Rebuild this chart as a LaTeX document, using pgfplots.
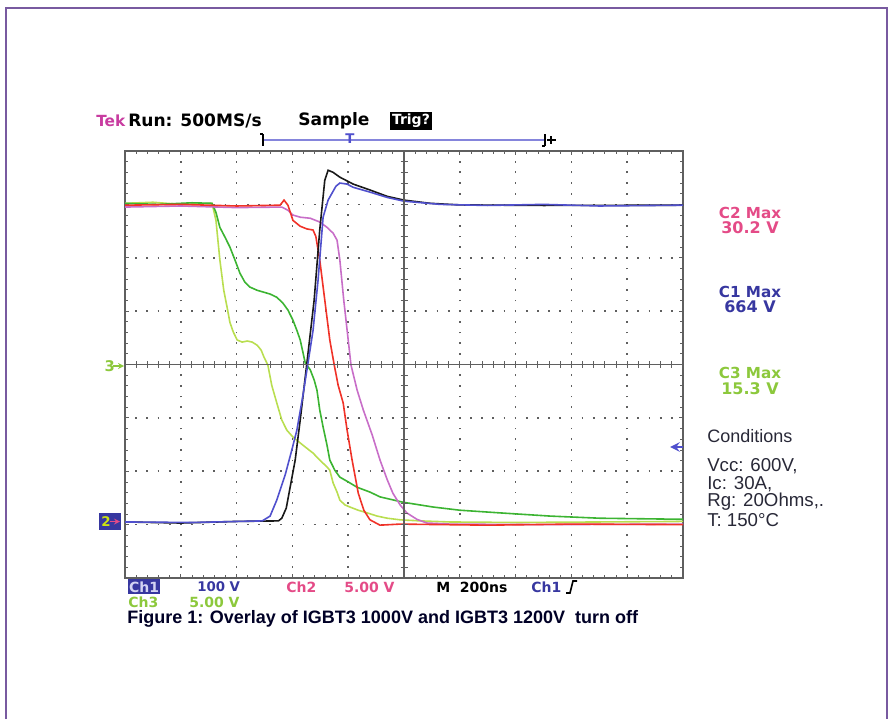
\documentclass[border=0pt]{standalone}
\usepackage{pgfplots}
\pgfplotsset{compat=1.18}
\usepackage{fontspec}
\setmainfont{Liberation Sans}
\newfontfamily\tek{DejaVu Sans}
\definecolor{cblue}{RGB}{80,80,205}
\definecolor{cbluetext}{RGB}{55,55,160}
\definecolor{cblack}{RGB}{25,25,25}
\definecolor{cred}{RGB}{240,50,40}
\definecolor{cmag}{RGB}{200,110,200}
\definecolor{cgreen}{RGB}{60,180,50}
\definecolor{clgreen}{RGB}{185,222,80}
\definecolor{clgtext}{RGB}{140,200,60}
\definecolor{cpink}{RGB}{228,75,135}
\definecolor{ctek}{RGB}{200,60,160}
\definecolor{cframe}{RGB}{120,90,160}
\definecolor{cgrid}{RGB}{95,95,95}
\definecolor{ccond}{RGB}{40,40,55}
\begin{document}
\begin{tikzpicture}[x=0.75pt,y=0.75pt]
\path[use as bounding box] (0,0) rectangle (893,719);
\draw[cframe, line width=0.8pt] (6,0) -- (6,711) -- (887,711) -- (887,0);
\begin{axis}[at={(93.75pt,105.75pt)}, anchor=south west, scale only axis,
  width=418.5pt, height=320.25pt,
  xmin=0, xmax=10, ymin=0, ymax=8,
  xtick={0,...,10}, ytick={0,...,8},
  minor x tick num=4, minor y tick num=4,
  xticklabels={}, yticklabels={},
  tick align=inside, major tick length=3pt, minor tick length=2.5pt,
  every tick/.style={cgrid, line width=0.6pt},
  axis line style={cgrid, line width=1.1pt},
  grid=major,
  x grid style={cgrid, line width=1.3pt, dash pattern=on 1.3pt off 6.706pt, dash phase=0.65pt},
  y grid style={cgrid, line width=1.3pt, dash pattern=on 1.3pt off 7.07pt, dash phase=0.65pt},
  clip=true]
% light green (Ch3, device A)
\addplot[clgreen, line width=1.2pt] coordinates {
(0,7.02) (0.5,7.04) (1.0,7.00) (1.56,7.02) (1.63,6.70) (1.70,5.96) (1.77,5.39) (1.83,5.07)
(1.88,4.79) (1.94,4.61) (2.01,4.46) (2.10,4.42) (2.19,4.44) (2.28,4.42) (2.37,4.36)
(2.44,4.27) (2.49,4.14) (2.56,3.99) (2.63,3.61) (2.72,3.28) (2.81,2.96) (2.90,2.77)
(3.01,2.64) (3.14,2.53) (3.26,2.43) (3.37,2.34) (3.49,2.21) (3.62,2.08) (3.67,2.02)
(3.73,1.78) (3.80,1.61) (3.85,1.46) (3.94,1.37) (4.03,1.33) (4.18,1.27) (4.34,1.22)
(4.52,1.16) (4.70,1.12) (4.93,1.09) (5.29,1.07) (5.82,1.05) (7.0,1.04) (8.5,1.05) (10,1.06)};
% green (Ch3, device B)
\addplot[cgreen, line width=1.2pt] coordinates {
(0,7.02) (0.6,7.00) (1.2,7.03) (1.56,7.02) (1.63,6.85) (1.70,6.57) (1.79,6.39) (1.88,6.20)
(1.97,5.96) (2.06,5.71) (2.15,5.54) (2.24,5.45) (2.37,5.39) (2.47,5.36) (2.60,5.32)
(2.72,5.26) (2.83,5.15) (2.92,5.02) (3.01,4.83) (3.08,4.64) (3.14,4.46) (3.23,4.03)
(3.32,3.90) (3.39,3.71) (3.44,3.52) (3.49,3.15) (3.55,2.83) (3.62,2.49) (3.67,2.21)
(3.76,2.02) (3.85,1.89) (4.00,1.80) (4.16,1.70) (4.39,1.61) (4.57,1.52) (4.98,1.42)
(5.52,1.33) (6.00,1.27) (6.72,1.22) (7.62,1.16) (8.51,1.12) (10,1.10)};
% magenta (Ch2, device B)
\addplot[cmag, line width=1.2pt] coordinates {
(0,6.95) (1.0,6.97) (2.0,6.94) (2.81,6.95) (2.92,6.89) (3.01,6.80) (3.14,6.76) (3.32,6.74)
(3.49,6.67) (3.62,6.57) (3.73,6.46) (3.80,6.33) (3.85,5.96) (3.92,5.21) (4.00,4.46)
(4.05,3.99) (4.16,3.52) (4.27,3.15) (4.43,2.68) (4.57,2.21) (4.70,1.84) (4.80,1.59)
(4.93,1.37) (5.05,1.22) (5.23,1.10) (5.41,1.03) (5.82,1.01) (7.5,1.00) (10,1.01)};
% red (Ch2, device A)
\addplot[cred, line width=1.2pt] coordinates {
(0,6.985) (1.0,7.00) (2.0,6.97) (2.78,6.985) (2.85,7.08) (2.92,6.985) (3.01,6.70) (3.14,6.59)
(3.26,6.54) (3.37,6.52) (3.42,6.40) (3.49,5.96) (3.58,5.21) (3.67,4.46) (3.75,3.99)
(3.82,3.61) (3.91,3.28) (3.98,2.77) (4.07,2.21) (4.18,1.59) (4.28,1.27) (4.39,1.09)
(4.57,0.99) (4.93,1.01) (6.5,0.99) (8.0,1.01) (10,1.00)};
% black (Ch1, device A)
\addplot[cblack, line width=1.2pt] coordinates {
(0,1.05) (1.0,1.03) (2.0,1.06) (2.75,1.07) (2.81,1.12) (2.89,1.31) (3.05,2.21) (3.14,2.96)
(3.26,4.03) (3.39,5.21) (3.49,6.52) (3.58,7.45) (3.64,7.64) (3.73,7.60) (3.85,7.51)
(4.09,7.38) (4.39,7.27) (4.70,7.15) (5.00,7.08) (5.47,7.02) (6.00,6.99) (7.5,6.98) (10,6.985)};
% blue (Ch1, device B)
\addplot[cblue, line width=1.2pt] coordinates {
(0,1.05) (1.2,1.04) (2.46,1.07) (2.60,1.16) (2.72,1.46) (2.87,1.93) (2.99,2.40) (3.08,2.77)
(3.19,3.43) (3.28,4.03) (3.37,4.64) (3.46,5.58) (3.55,6.76) (3.64,7.08) (3.71,7.21)
(3.78,7.34) (3.85,7.40) (3.98,7.38) (4.09,7.32) (4.39,7.23) (4.70,7.13) (5.00,7.06)
(5.65,7.00) (6.5,6.98) (7.5,7.00) (8.5,6.97) (10,6.985)};
\end{axis}
% centre cross with ticks
\draw[cgrid, line width=1.1pt] (404,141) -- (404,568);
\draw[cgrid, line width=1.1pt] (125,354.6) -- (683,354.6);
\foreach \i in {1,...,39} {\draw[cgrid, line width=0.7pt] ({404-3.5},{141+\i*10.675}) -- ++(7,0);}
\foreach \i in {1,...,49} {\draw[cgrid, line width=0.7pt] ({125+\i*11.16},{354.6-3.5}) -- ++(0,7);}
% top status line
\node[anchor=west, inner sep=0pt, text=ctek, font=\tek\bfseries\fontsize{11.5}{14}\selectfont] at (96,598) {Tek};
\node[anchor=west, inner sep=0pt, font=\tek\bfseries\fontsize{12.8}{14}\selectfont] at (128,598) {Run: 500MS/s};
\node[anchor=west, inner sep=0pt, font=\tek\bfseries\fontsize{12.8}{14}\selectfont] at (298,598) {Sample};
\node[anchor=west, fill=black, text=white, inner sep=1.3pt, font=\tek\bfseries\fontsize{10.5}{11}\selectfont] at (390,598) {Trig?};
% trigger bar
\draw[cblue!70, line width=0.8pt] (263,579) -- (545,579);
\draw[black, line width=1pt] (263,573) -- (263,585) (260,585) -- (263,585);
\draw[black, line width=1pt] (545,573) -- (545,585) (542,573) -- (545,573);
\draw[black, line width=0.8pt] (547,579) -- (556,579) (551,575) -- (551,583);
\node[text=cblue, inner sep=0pt, font=\tek\bfseries\fontsize{10}{12}\selectfont] at (350,580) {T};
% right labels
\node[text=cpink, inner sep=0pt, font=\tek\bfseries\fontsize{11.4}{13}\selectfont] at (750,506) {C2 Max};
\node[text=cpink, inner sep=0pt, font=\tek\bfseries\fontsize{12}{13}\selectfont] at (750,491) {30.2 V};
\node[text=cbluetext, inner sep=0pt, font=\tek\bfseries\fontsize{11.4}{13}\selectfont] at (750,427) {C1 Max};
\node[text=cbluetext, inner sep=0pt, font=\tek\bfseries\fontsize{12}{13}\selectfont] at (750,412) {664 V};
\node[text=clgtext, inner sep=0pt, font=\tek\bfseries\fontsize{11.4}{13}\selectfont] at (750,346) {C3 Max};
\node[text=clgtext, inner sep=0pt, font=\tek\bfseries\fontsize{12}{13}\selectfont] at (750,330) {15.3 V};
\node[anchor=west, text=ccond, inner sep=0pt, font=\fontsize{13.5}{15}\selectfont] at (707,283) {Conditions};
\node[anchor=west, text=ccond, inner sep=0pt, font=\fontsize{14}{15}\selectfont] at (707,253) {Vcc: 600V,};
\node[anchor=west, text=ccond, inner sep=0pt, font=\fontsize{14}{15}\selectfont] at (707,235) {Ic: 30A,};
\node[anchor=west, text=ccond, inner sep=0pt, font=\fontsize{14}{15}\selectfont] at (707,217) {Rg: 20Ohms,.};
\node[anchor=west, text=ccond, inner sep=0pt, font=\fontsize{14}{15}\selectfont] at (707,199) {T: 150°C};
% left / right markers
\node[anchor=east, text=clgtext, inner sep=0pt, font=\tek\bfseries\fontsize{11}{12}\selectfont] at (115,353) {3};
\draw[clgtext, line width=1pt, -stealth] (113,353) -- (124,353);
\fill[cbluetext] (99,189) rectangle (121,206);
\node[text=yellow!80!green, inner sep=0pt, font=\tek\bfseries\fontsize{10}{11}\selectfont] at (106,197.5) {2};
\draw[cpink, line width=1pt, -stealth] (110,197.5) -- (120,197.5);
\draw[cblue, line width=2.2pt, -stealth] (683,272) -- (670,272);
% bottom readout
\fill[cbluetext] (128,125) rectangle (160,140);
\node[text=cblue!25, inner sep=0pt, font=\tek\bfseries\fontsize{10.5}{12}\selectfont] at (144,132) {Ch1};
\node[anchor=west, text=cbluetext, inner sep=0pt, font=\tek\bfseries\fontsize{10}{12}\selectfont] at (197,132) {100 V};
\node[anchor=west, text=cpink, inner sep=0pt, font=\tek\bfseries\fontsize{10.5}{12}\selectfont] at (286,132) {Ch2};
\node[anchor=west, text=cpink, inner sep=0pt, font=\tek\bfseries\fontsize{10.5}{12}\selectfont] at (344,132) {5.00 V};
\node[anchor=west, inner sep=0pt, font=\tek\bfseries\fontsize{10.5}{12}\selectfont] at (436,132) {M\ \ 200ns};
\node[anchor=west, text=cbluetext, inner sep=0pt, font=\tek\bfseries\fontsize{10.5}{12}\selectfont] at (531,132) {Ch1};
\draw[black, line width=1.2pt] (566,126) -- (570,126) -- (573,138) -- (577,138);
\node[anchor=west, text=clgtext, inner sep=0pt, font=\tek\bfseries\fontsize{10.5}{12}\selectfont] at (128,117) {Ch3};
\node[anchor=west, text=clgtext, inner sep=0pt, font=\tek\bfseries\fontsize{10.5}{12}\selectfont] at (189,117) {5.00 V};
\node[anchor=west, text=black!85!blue, inner sep=0pt, font=\bfseries\fontsize{13.5}{15}\selectfont] at (127,100) {Figure 1: Overlay of IGBT3 1000V and IGBT3 1200V\ \ turn off};
\end{tikzpicture}
\end{document}
